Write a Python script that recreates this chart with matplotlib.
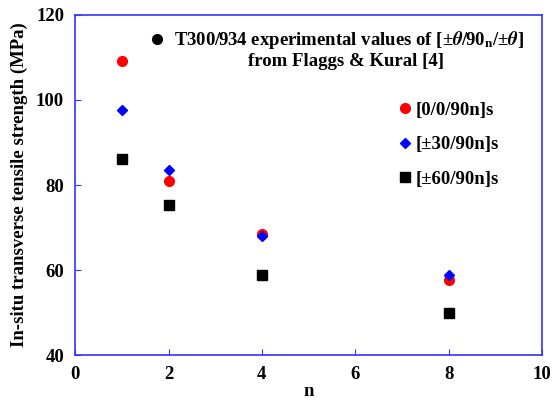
import matplotlib.pyplot as plt

plt.rcParams['font.family'] = 'Liberation Serif'
plt.rcParams['font.weight'] = 'bold'
plt.rcParams['mathtext.fontset'] = 'stix'

n_vals = [1, 2, 4, 8]
strength_0_0_90 = [109.2, 80.9, 68.6, 57.6]
strength_30_90 = [97.6, 83.5, 68.0, 58.8]
strength_60_90 = [86.1, 75.2, 58.9, 49.9]

labels = ['[0/0/90n]s', '[\u00b130/90n]s', '[\u00b160/90n]s']

fs = 13.5

fig = plt.figure(figsize=(5.53, 4.04), dpi=100)
ax = fig.add_axes([0.136, 0.121, 0.844, 0.842])

ax.plot(n_vals, strength_0_0_90, 'o', color='red', markersize=7, linestyle='none', label=labels[0])
ax.plot(n_vals, strength_30_90, 'D', color='blue', markersize=5.5, linestyle='none', label=labels[1])
ax.plot(n_vals, strength_60_90, 's', color='black', markersize=7.5, linestyle='none', label=labels[2])

ax.set_xlim(0, 10)
ax.set_ylim(40, 120)
ax.set_xticks([0, 2, 4, 6, 8, 10])
ax.set_yticks([40, 60, 80, 100, 120])
for spine in ax.spines.values():
    spine.set_color('#3333ff')
    spine.set_linewidth(1.2)
ax.tick_params(direction='in', color='#3333ff', length=4, labelsize=fs)
ax.tick_params(axis='x', pad=8)
ax.tick_params(axis='y', pad=8)
ax.set_xlabel('n', fontsize=fs, fontweight='bold', labelpad=0)
ax.set_ylabel('In-situ transverse tensile strength (MPa)', fontsize=fs, fontweight='bold', labelpad=6)

ax.legend(loc='upper left', bbox_to_anchor=(0.686, 0.745), frameon=False, fontsize=fs,
          borderpad=0, borderaxespad=0, handletextpad=0.1, labelspacing=0.92, handlelength=1.0)

# heading with the source of the data
ax.plot([0.175], [0.93], 'o', color='black', markersize=7, transform=ax.transAxes, clip_on=False)
ax.text(0.587, 0.926, 'T300/934 experimental values of [\u00b1$\\theta$/90$_\\mathbf{n}$/\u00b1$\\theta$]',
        transform=ax.transAxes, ha='center', va='center', fontsize=fs, fontweight='bold')
ax.text(0.58, 0.862, 'from Flaggs & Kural [4]', transform=ax.transAxes,
        ha='center', va='center', fontsize=fs, fontweight='bold')

fig.savefig('out.png', dpi=100)
